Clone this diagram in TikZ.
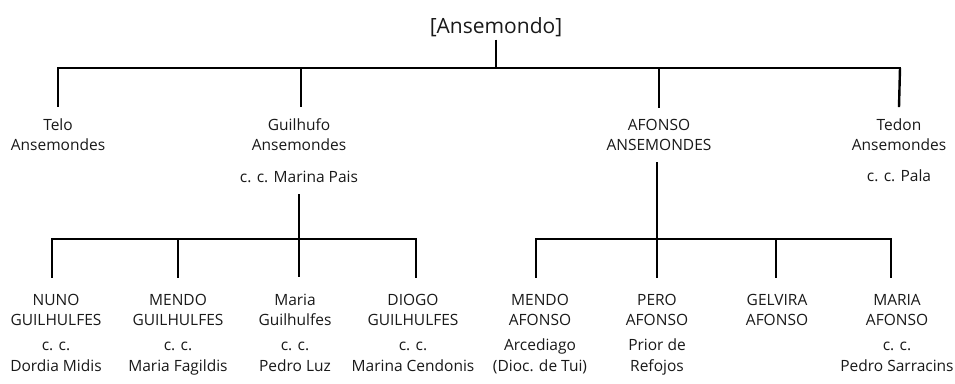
\documentclass[tikz,border=0pt]{standalone}
\usepackage{fontspec}
\usetikzlibrary{calc}
\setmainfont{Open Sans}
\begin{document}
\begin{tikzpicture}[x=1pt,y=-1pt,
  person/.style={align=center,inner sep=0pt,anchor=base,text=black!90,
    font=\fontsize{15.5}{20}\selectfont},
  note/.style={align=center,inner sep=0pt,anchor=base,text=black!90,
    font=\fontsize{15.5}{21}\selectfont},
  link/.style={line width=2pt,line cap=rect},
  drop/.style={line width=2.4pt},
  thindrop/.style={line width=1.6pt}]
\useasboundingbox[fill=white] (0,0) rectangle (955,383);
% root
\node[inner sep=0pt,anchor=base,text=black!90,font=\fontsize{21}{21}\selectfont] (root) at (496,33) {[Ansemondo]};
\coordinate (j0) at (496,68);
\coordinate (j0l) at (58,68);
\coordinate (j0r) at (900,68);
% generation 1
\node[person] (telo) at (58,150) {Telo\\Ansemondes};
\node[person] (guil) at (299,150) {Guilhufo\\Ansemondes};
\node[note] (guiln) at (299,182) {c. c. Marina Pais};
\node[person] (afon) at (659,150) {AFONSO\\ANSEMONDES};
\node[person] (tedo) at (899,150) {Tedon\\Ansemondes};
\node[note] (tedon) at (899,181) {c. c. Pala};
\draw[thindrop] ([yshift=-3pt]root.south) -- (j0);
\draw[link] (j0l) -- (j0r);
\draw[drop] (j0l) -- ([yshift=11pt]telo.north);
\draw[thindrop] (301,68) -- ([xshift=2pt,yshift=11pt]guil.north);
\draw[drop] (afon.north |- j0) -- ([yshift=11pt]afon.north);
\draw[drop] (j0r) -- ([yshift=11pt]tedo.north);
% generation 2 (Guilhufo)
\coordinate (j1) at (299,239);
\coordinate (j1l) at (52,239);
\coordinate (j1m) at (178,239);
\coordinate (j1r) at (416,239);
\node[person] (nuno) at (56,325) {NUNO\\GUILHULFES};
\node[note] (nunon) at (56,371) {c. c.\\Dordia Midis};
\node[person] (mend) at (178,325) {MENDO\\GUILHULFES};
\node[note] (mendn) at (178,371) {c. c.\\Maria Fagildis};
\node[person] (mari) at (295,325) {Maria\\Guilhulfes};
\node[note] (marin) at (295,371) {c. c.\\Pedro Luz};
\node[person] (diog) at (413,325) {DIOGO\\GUILHULFES};
\node[note] (diogn) at (413,371) {c. c.\\Marina Cendonis};
\draw[drop] ([yshift=-12pt]guiln.south) -- (j1) -- ($(mari.north -| j1)+(0,-16)$);
\draw[link] (j1l) -- (j1r);
\draw[drop] (j1l) -- ($(nuno.north -| j1l)+(0,-16)$);
\draw[thindrop] (j1m) -- ($(mend.north -| j1m)+(0,-16)$);
\draw[drop] (j1r) -- ($(diog.north -| j1r)+(0,-16)$);
% generation 2 (Afonso)
\coordinate (j2) at (657,239);
\coordinate (j2l) at (536,239);
\coordinate (j2m) at (776,239);
\coordinate (j2r) at (891,239);
\node[person] (mena) at (540,325) {MENDO\\AFONSO};
\node[note] (menan) at (540,371) {Arcediago\\(Dioc. de Tui)};
\node[person] (pero) at (657,325) {PERO\\AFONSO};
\node[note] (peron) at (657,371) {Prior de\\Refojos};
\node[person] (gelv) at (777,325) {GELVIRA\\AFONSO};
\node[person] (mara) at (897,325) {MARIA\\AFONSO};
\node[note] (maran) at (897,371) {c. c.\\Pedro Sarracins};
\draw[drop] ($(afon.south -| j2)+(0,12)$) -- (j2) -- ($(pero.north -| j2)+(0,-16)$);
\draw[link] (j2l) -- (j2r);
\draw[drop] (j2l) -- ($(mena.north -| j2l)+(0,-16)$);
\draw[drop] (j2m) -- ($(gelv.north -| j2m)+(0,-16)$);
\draw[drop] (j2r) -- ($(mara.north -| j2r)+(0,-16)$);
\end{tikzpicture}
\end{document}
